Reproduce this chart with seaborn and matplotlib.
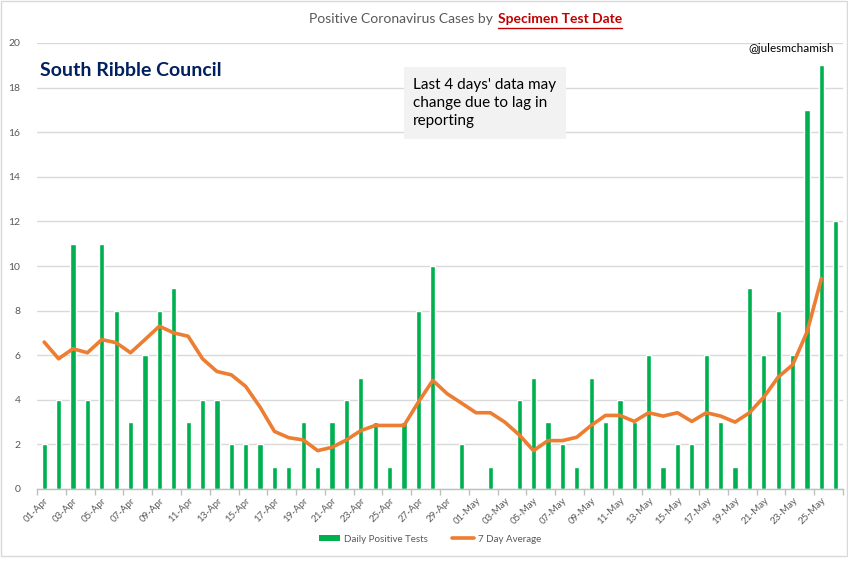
import numpy as np
import pandas as pd
import matplotlib
matplotlib.use("Agg")
import matplotlib.pyplot as plt
from matplotlib.patches import Rectangle, Patch
from matplotlib.lines import Line2D
import seaborn as sns

# ---- data ----
dates = ([f"{d:02d}-Apr" for d in range(1, 31)] +
         [f"{d:02d}-May" for d in range(1, 27)])
daily = [2, 4, 11, 4, 11, 8, 3, 6, 8, 9,
         3, 4, 4, 2, 2, 2, 1, 1, 3, 1,
         3, 4, 5, 3, 1, 3, 8, 10, 0, 2,
         0, 1, 0, 4, 5, 3, 2, 1, 5, 3,
         4, 3, 6, 1, 2, 2, 6, 3, 1, 9,
         6, 8, 6, 17, 19, 12]
avg7 = [6.59, 5.84, 6.29, 6.11, 6.70, 6.56, 6.11, 6.70, 7.30, 7.0,
        6.85, 5.84, 5.27, 5.12, 4.6, 3.67, 2.58, 2.3, 2.2, 1.72,
        1.87, 2.2, 2.62, 2.85, 2.85, 2.85, 3.9, 4.87, 4.27, 3.85,
        3.42, 3.42, 3.0, 2.43, 1.72, 2.17, 2.17, 2.32, 2.85, 3.3,
        3.3, 3.03, 3.42, 3.27, 3.42, 3.03, 3.42, 3.27, 3.0, 3.42,
        4.12, 5.02, 5.57, 7.04, 9.44, np.nan]
yticks = list(range(0, 21, 2))

GREEN = "#00B050"
ORANGE = "#ED7D31"
GRAY = "#595959"

sns.set_theme(style="white")
plt.rcParams['font.family'] = ['Lato', 'DejaVu Sans']

df = pd.DataFrame({"date": dates, "daily": daily, "avg": avg7})
df["idx"] = np.arange(len(df))

W, H = 848, 561
fig = plt.figure(figsize=(W / 100, H / 100), dpi=100)
fig.patch.set_facecolor("white")

def fx(px):
    return px / W

def fy(py):
    return 1 - py / H

ax = fig.add_axes([fx(37), fy(489), fx(843) - fx(37), fy(43) - fy(489)])

sns.barplot(data=df, x="idx", y="daily", color=GREEN, width=0.36,
            saturation=1, ax=ax, zorder=2)
sns.lineplot(data=df, x="idx", y="avg", color=ORANGE, linewidth=2.6,
             ax=ax, zorder=3)

ax.set_xlim(-0.5, len(dates) - 0.5)
ax.set_ylim(0, 20)
ax.set_yticks(yticks)
ax.set_yticklabels([str(t) for t in yticks], fontsize=7.5, color=GRAY)
ax.yaxis.grid(True, color="#D9D9D9", linewidth=1)
ax.set_axisbelow(True)
ax.set_xlabel("")
ax.set_ylabel("")

ax.set_xticks(np.arange(0, len(dates), 2))
ax.set_xticklabels(dates[::2], rotation=45, ha="right",
                   rotation_mode="anchor", fontsize=7, color=GRAY)
ax.set_xticks(np.arange(-0.5, len(dates), 2), minor=True)
ax.tick_params(axis="x", which="major", length=0, pad=5)
ax.tick_params(axis="x", which="minor", length=4, color="#BFBFBF",
               direction="out", bottom=True)
ax.tick_params(axis="y", length=0, pad=12)

for s in ["top", "right", "left"]:
    ax.spines[s].set_visible(False)
ax.spines["bottom"].set_color("#BFBFBF")
ax.spines["bottom"].set_linewidth(1)

# ---- title ----
fig.text(fx(496), fy(19), "Positive Coronavirus Cases by ", ha="right",
         va="center", fontsize=10, color=GRAY)
fig.text(fx(498), fy(19), "Specimen Test Date", ha="left", va="center",
         fontsize=10, color="#C00000", fontweight="bold")
fig.add_artist(Line2D([fx(498), fx(622)], [fy(28), fy(28)],
                      color="#C00000", linewidth=1))

# ---- other text ----
fig.text(fx(40), fy(71), "South Ribble Council", ha="left", va="center",
         fontsize=14, fontweight="bold", color="#002060")
fig.text(fx(834), fy(48), "@julesmchamish", ha="right", va="center",
         fontsize=8.5, color="black")

fig.add_artist(Rectangle((fx(404), fy(139)), fx(566) - fx(404),
                         fy(67) - fy(139), transform=fig.transFigure,
                         facecolor="#F2F2F2", edgecolor="none", zorder=5))
fig.text(fx(413), fy(103), "Last 4 days' data may\nchange due to lag in\nreporting",
         ha="left", va="center", fontsize=11, color="black",
         linespacing=1.35, zorder=6)

# ---- legend ----
handles = [Patch(facecolor=GREEN, edgecolor="none"),
           Line2D([0], [0], color=ORANGE, linewidth=2.6)]
fig.legend(handles, ["Daily Positive Tests", "7 Day Average"],
           loc="center", bbox_to_anchor=(fx(430), fy(539)), ncol=2,
           frameon=False, fontsize=7, labelcolor=GRAY, handlelength=2.2,
           handleheight=0.6, columnspacing=2.5, handletextpad=0.4)

# ---- chart border ----
fig.add_artist(Rectangle((fx(1), fy(556)), fx(846), fy(1) - fy(556),
                         transform=fig.transFigure, facecolor="none",
                         edgecolor="#D9D9D9", linewidth=1))

fig.savefig("out.png", dpi=100)
